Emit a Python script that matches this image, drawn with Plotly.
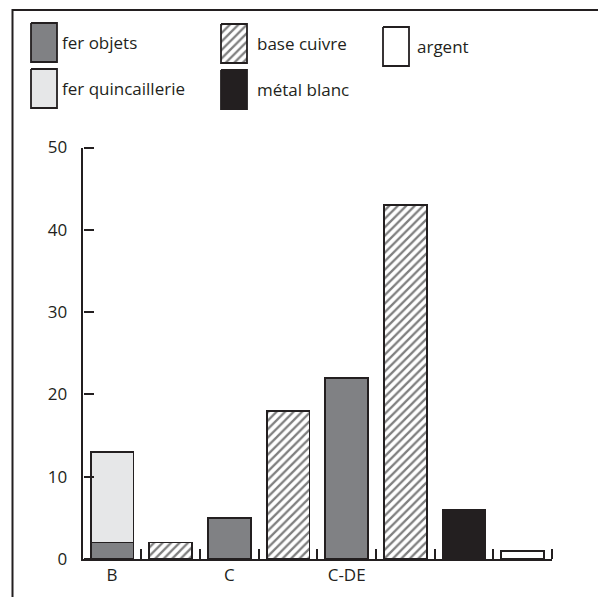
import plotly.graph_objects as go

# slot labels along the x axis (one slot per bar)
slot_labels = ["B", "", "C", "", "C-DE", "", "", ""]

fer_objets_slot = [0, 2, 4]
fer_objets = [2, 5, 22]
fer_quinc_slot = [0]
fer_quincaillerie = [11]
base_cuivre_slot = [1, 3, 5]
base_cuivre = [2, 18, 43]
metal_blanc_slot = [6]
metal_blanc = [6]
argent_slot = [7]
argent = [1]

yticks = [0, 10, 20, 30, 40, 50]

W, H = 598, 597
LEG_H = 130  # height (px) of the legend strip at the top
INK = "#231f20"
FONT = "Open Sans"
hatch = dict(shape="/", bgcolor="white", fgcolor="black", size=6, solidity=0.38)

styles = {
    "fer objets": dict(color="#808184"),
    "fer quincaillerie": dict(color="#e6e7e8"),
    "base cuivre": dict(color="white", pattern=hatch),
    "métal blanc": dict(color=INK),
    "argent": dict(color="white"),
}

fig = go.Figure()
series = [
    ("fer objets", fer_objets_slot, fer_objets),
    ("fer quincaillerie", fer_quinc_slot, fer_quincaillerie),
    ("base cuivre", base_cuivre_slot, base_cuivre),
    ("métal blanc", metal_blanc_slot, metal_blanc),
    ("argent", argent_slot, argent),
]
for name, xs, ys in series:
    st = styles[name]
    fig.add_bar(x=xs, y=ys, name=name, width=0.73, showlegend=False,
                marker=dict(color=st["color"], pattern=st.get("pattern"),
                            line=dict(color=INK, width=1.8)))

# empty traces so the overlay axes (labels, inward ticks) get drawn
fig.add_scatter(x=[None], y=[None], xaxis="x3", yaxis="y", showlegend=False, hoverinfo="skip")
fig.add_scatter(x=[None], y=[None], xaxis="x4", yaxis="y", showlegend=False, hoverinfo="skip")
fig.add_scatter(x=[None], y=[None], xaxis="x", yaxis="y4", showlegend=False, hoverinfo="skip")

# hand-made legend (pixel coordinates on a small axis at the top)
legend_items = [
    ("fer objets", 31, 23, 60),
    ("fer quincaillerie", 31, 69, 60),
    ("base cuivre", 221, 24, 255),
    ("métal blanc", 221, 70, 255),
    ("argent", 383, 27, 415),
]
for name, x0, y0, tx in legend_items:
    st = styles[name]
    x1, y1 = x0 + 26, y0 + 39
    kw = dict(fill="toself", fillcolor=st["color"])
    if "pattern" in st:
        kw["fillpattern"] = hatch
    fig.add_scatter(x=[x0, x1, x1, x0, x0], y=[y0, y0, y1, y1, y0],
                    mode="lines", line=dict(color=INK, width=1.8),
                    xaxis="x2", yaxis="y2", showlegend=False, hoverinfo="skip", **kw)
    fig.add_annotation(x=tx, y=(y0 + y1) / 2, xref="x2", yref="y2", text=name,
                       showarrow=False, xanchor="left", yanchor="middle",
                       font=dict(family=FONT, size=17, color=INK))

# outer frame
fig.add_shape(type="rect", xref="paper", yref="paper",
              x0=12.5 / W, x1=1.05, y0=-0.05, y1=1 - 10 / H,
              line=dict(color=INK, width=2))

xdom = [82.7 / W, 552 / W]
ydom = [38 / H, 449.5 / H]
xrange_ = [-0.5, len(slot_labels) - 0.5]
yrange_ = [0, 50]
label_idx = [i for i, s in enumerate(slot_labels) if s]
tick_style = dict(ticklen=10, tickwidth=2, tickcolor=INK, showgrid=False, zeroline=False,
                  automargin=False)

fig.update_layout(
    width=W, height=H, margin=dict(l=0, r=0, t=0, b=0, pad=0),
    plot_bgcolor="rgba(0,0,0,0)", paper_bgcolor="white", barmode="stack",
    font=dict(family=FONT, size=17, color=INK),
    # axis line with the period labels under the bars
    xaxis=dict(domain=xdom, range=xrange_, tickmode="array", tickvals=label_idx,
               ticktext=[slot_labels[i] for i in label_idx], ticks="",
               showline=True, linecolor=INK, linewidth=2, **tick_style),
    xaxis3=dict(domain=xdom, range=xrange_, overlaying="x", anchor="y", visible=False),
    # upward tick marks between the bars
    xaxis4=dict(domain=xdom, range=xrange_, overlaying="x", anchor="free", position=ydom[0],
                side="top", tickmode="array",
                tickvals=[i + 0.5 for i in range(len(slot_labels))],
                showticklabels=False, ticks="outside", showline=False, **tick_style),
    yaxis=dict(domain=ydom, range=yrange_, tickvals=yticks, ticks="",
               showline=True, linecolor=INK, linewidth=2, ticklabelstandoff=10, **tick_style),
    # tick marks pointing right from the y axis
    yaxis4=dict(domain=ydom, range=yrange_, overlaying="y", anchor="free", position=xdom[0],
                side="right", tickvals=yticks, showticklabels=False, ticks="outside",
                showline=False, **tick_style),
    xaxis2=dict(domain=[0, 1], range=[0, W], visible=False, anchor="y2", automargin=False),
    yaxis2=dict(domain=[1 - LEG_H / H, 1], range=[LEG_H, 0], visible=False, anchor="x2",
                automargin=False),
)

fig.write_html("out.html", config={"displayModeBar": False},
               post_script="document.body.style.margin='0';")
